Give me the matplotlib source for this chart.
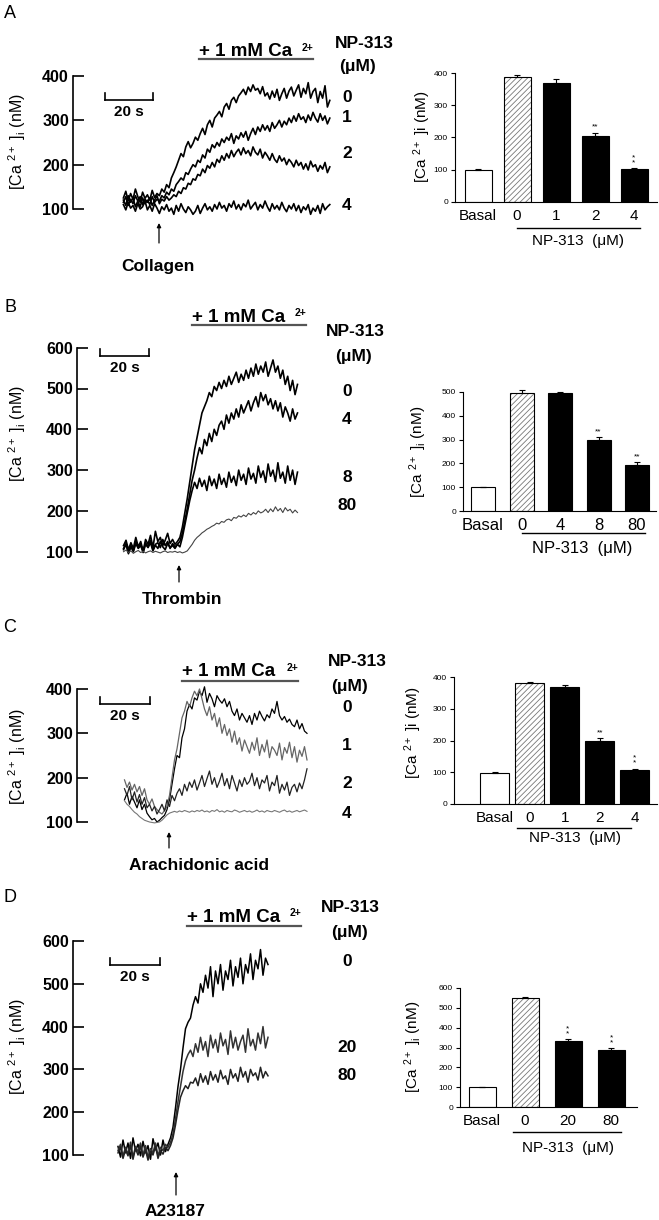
import numpy as np
import matplotlib
matplotlib.use('Agg')
import matplotlib.pyplot as plt
from matplotlib.lines import Line2D
from matplotlib.patches import FancyArrowPatch

plt.rcParams['font.family'] = ['Liberation Sans', 'DejaVu Sans']
plt.rcParams['mathtext.fontset'] = 'custom'
plt.rcParams['mathtext.rm'] = 'Liberation Sans'
plt.rcParams['mathtext.it'] = 'Liberation Sans:italic'
plt.rcParams['mathtext.bf'] = 'Liberation Sans:bold'
plt.rcParams['hatch.linewidth'] = 0.6
plt.rcParams['hatch.color'] = '#777777'

# ---------------- DATA ----------------
# Panel A (collagen) traces, 1 value per second starting at A_t0 (s)
A_t0 = 21
A_0 = [125,140,118,135,122,145,128,115,138,124,
       132,120,142,126,135,130,145,138,155,148,
       170,182,195,210,225,218,240,252,238,248,
       262,255,270,282,268,290,300,285,305,312,
       320,308,330,338,325,345,352,340,355,362,
       370,358,375,365,380,368,372,360,376,355,
       362,348,366,352,370,345,360,372,350,366,
       375,355,368,380,352,372,360,385,350,365,
       372,340,365,350,378,330,345]
A_1 = [115,128,108,122,112,130,118,105,125,112,
       120,110,128,115,122,118,130,125,138,132,
       145,140,155,162,170,165,182,178,190,200,
       195,210,205,222,215,235,228,245,238,250,
       242,258,250,262,255,270,248,265,258,272,
       262,275,255,270,282,268,285,275,290,278,
       288,275,295,282,290,300,285,298,290,305,
       295,310,298,315,302,308,295,312,300,318,
       305,296,315,300,310,292,305]
A_2 = [120,108,130,115,125,105,118,128,110,122,
       115,125,108,120,130,112,122,118,128,120,
       125,132,128,140,135,148,145,158,155,168,
       165,178,175,190,182,198,192,205,195,212,
       205,220,210,225,215,232,218,228,235,222,
       238,225,232,220,240,228,222,235,215,228,
       220,210,225,212,205,220,208,215,200,212,
       205,195,210,198,205,190,202,188,208,195,
       200,185,198,190,205,182,195]
A_4 = [110,98,115,102,108,95,112,100,105,118,
       98,108,95,112,102,90,105,98,110,95,
       102,88,108,95,112,100,92,105,98,88,
       95,108,90,102,112,98,105,95,110,100,
       115,102,108,95,112,104,118,100,110,98,
       112,105,120,100,108,115,98,110,102,118,
       105,95,112,100,108,98,115,102,94,108,
       100,112,96,108,92,105,98,110,88,102,
       95,108,90,112,98,105,110]
A_conc = ['0', '1', '2', '4']
A_stim = 'Collagen'
A_bar_labels = ['Basal', '0', '1', '2', '4']
A_bar_vals = [100, 387, 370, 205, 102]
A_bar_err = [2, 8, 12, 10, 3]

# Panel B (thrombin)
B_t0 = 19
B_0 = [115,128,105,122,108,135,112,125,102,130,
       118,140,110,150,125,135,115,128,145,120,
       130,118,125,135,160,195,230,270,310,350,
       380,410,440,455,470,490,480,505,495,515,
       500,520,505,530,510,525,540,515,535,520,
       545,525,550,530,560,535,555,540,565,530,
       550,570,540,555,525,545,510,530,495,520,
       485,510]
B_4 = [108,120,98,115,102,125,110,118,100,122,
       112,128,105,118,122,110,130,115,125,108,
       120,112,118,125,145,175,205,240,275,300,
       330,355,340,375,360,390,370,400,385,410,
       420,400,435,415,440,425,450,430,460,440,
       455,470,445,465,480,455,490,470,485,460,
       475,450,470,445,465,430,455,440,420,450,
       425,440]
B_8 = [105,118,95,112,100,120,108,115,98,118,
       110,122,102,116,108,125,112,105,120,110,
       115,108,118,112,135,165,195,225,250,270,
       255,280,260,275,250,285,262,278,255,290,
       265,280,258,295,270,285,262,300,275,290,
       265,305,278,292,268,310,282,298,270,315,
       285,300,272,318,280,295,268,310,275,300,
       265,295]
B_80 = [100,104,98,102,96,100,103,98,101,97,
        100,102,98,101,99,97,100,102,98,100,
        99,101,98,100,97,99,102,110,118,128,
        135,140,146,150,155,158,162,165,170,168,
        174,172,178,180,176,184,182,188,185,190,
        186,194,190,196,192,200,195,198,204,196,
        205,198,210,200,206,196,208,200,204,195,
        202,196]
B_conc = ['0', '4', '8', '80']
B_stim = 'Thrombin'
B_bar_labels = ['Basal', '0', '4', '8', '80']
B_bar_vals = [100, 497, 495, 300, 195]
B_bar_err = [2, 10, 7, 10, 10]

# Panel C (arachidonic acid)
C_t0 = 19
C_0 = [150,165,140,158,145,132,150,128,140,120,
       112,105,108,100,104,110,115,128,150,185,
       220,250,245,290,310,350,365,355,380,375,
       395,385,405,370,390,378,360,385,375,368,
       378,360,372,350,340,355,330,345,335,325,
       340,320,345,330,350,338,328,342,335,355,
       345,372,340,330,338,325,332,320,315,330,
       310,322,305,300]
C_1 = [195,178,190,172,185,168,180,160,175,150,
       140,152,135,128,122,118,126,135,160,200,
       240,265,300,335,350,372,360,380,395,385,
       400,378,355,340,360,330,345,315,335,300,
       320,295,310,280,305,275,290,260,285,270,
       255,280,262,290,250,275,258,285,245,270,
       262,250,278,240,268,255,280,245,270,235,
       262,248,270,240]
C_2 = [175,160,180,150,168,145,162,140,155,132,
       140,125,135,118,128,140,125,150,135,160,
       148,165,175,160,185,170,190,178,195,172,
       188,205,180,198,215,185,200,178,192,210,
       182,198,175,205,188,170,195,180,200,185,
       192,210,182,200,175,195,188,205,170,190,
       182,205,165,185,172,190,160,178,185,168,
       188,175,195,220]
C_4 = [148,140,135,128,122,118,112,108,104,102,
       100,99,98,99,100,104,110,116,120,122,
       124,122,125,123,126,124,122,125,123,126,
       124,127,123,125,122,126,124,128,123,125,
       122,126,124,123,127,125,122,124,126,123,
       125,122,124,127,123,125,122,126,124,123,
       126,124,122,125,127,123,125,122,124,126,
       123,125,127,124]
C_conc = ['0', '1', '2', '4']
C_stim = 'Arachidonic acid'
C_bar_labels = ['Basal', '0', '1', '2', '4']
C_bar_vals = [97, 380, 368, 200, 108]
C_bar_err = [3, 3, 8, 8, 3]

# Panel D (A23187)
D_t0 = 18
D_0 = [120,95,135,105,128,92,140,110,125,98,
       132,105,122,90,138,112,128,100,135,108,
       125,140,165,210,260,300,350,395,410,420,
       450,470,455,500,480,520,490,540,470,530,
       500,545,485,530,510,555,495,540,515,560,
       500,545,525,570,510,555,535,580,520,560,
       545]
D_20 = [110,125,98,118,102,130,95,120,108,128,
        100,122,95,115,105,128,98,118,110,125,
        118,130,150,185,225,260,295,320,335,345,
        330,360,340,375,345,365,330,380,350,370,
        340,385,355,370,335,390,350,375,345,365,
        380,340,395,355,370,345,385,360,400,350,
        375]
D_80 = [105,118,92,112,98,122,90,115,100,120,
        95,112,88,108,100,120,92,110,102,118,
        110,122,140,170,205,235,250,262,255,270,
        268,280,262,290,270,285,265,295,275,288,
        270,298,278,285,265,300,280,290,272,305,
        282,295,270,300,285,292,275,305,280,295,
        285]
D_conc = ['0', '20', '80']
D_stim = 'A23187'
D_bar_labels = ['Basal', '0', '20', '80']
D_bar_vals = [100, 550, 335, 285]
D_bar_err = [3, 5, 7, 10]

# ---------------- FIGURE ----------------
W, H = 659, 1220
fig = plt.figure(figsize=(W / 100, H / 100), dpi=100)
fig.patch.set_facecolor('white')


def fx(x):
    return x / W


def fy(y):
    return 1 - y / H


def ftext(x, y, s, size=10, weight='bold', ha='center', va='center', **kw):
    fig.text(fx(x), fy(y), s, fontsize=size, fontweight=weight, ha=ha, va=va, **kw)


def fline(x0, y0, x1, y1, **kw):
    fig.add_artist(Line2D([fx(x0), fx(x1)], [fy(y0), fy(y1)],
                          transform=fig.transFigure, **kw))


def farrow(x, y0, y1):
    fig.add_artist(FancyArrowPatch((fx(x), fy(y0)), (fx(x), fy(y1)),
                                   transform=fig.transFigure, arrowstyle='-|>',
                                   mutation_scale=6, lw=0.9, color='black',
                                   shrinkA=0, shrinkB=0))


CA_TRACE = r'[Ca $^{2+}$ ]$_{\mathrm{i}}$ (nM)'


def trace_panel(letter, letter_y, spine_x, ytop_px, ybot_px, ymin, ymax, step,
                pxs, t0, traces, styles, conc, conc_ys, bar_px, ca_px, np_px,
                mu_px, stim, stim_px, arrow_px, ylab_y):
    right = 345
    ax = fig.add_axes([fx(spine_x), fy(ybot_px), (right - spine_x) / W,
                       (ybot_px - ytop_px) / H])
    ax.set_xlim(0, (right - spine_x) / pxs)
    ax.set_ylim(ymin, ymax)
    ax.patch.set_visible(False)
    for s in ['top', 'right', 'bottom']:
        ax.spines[s].set_visible(False)
    ax.spines['left'].set_linewidth(1.2)
    ax.set_xticks([])
    ax.set_yticks(np.arange(ymin, ymax + 1, step))
    ax.tick_params(axis='y', direction='in', length=8, width=1.2, pad=3,
                   labelsize=11.5)
    for lbl in ax.get_yticklabels():
        lbl.set_fontweight('bold')
    for vals, (c, lw) in zip(traces, styles):
        t = t0 + np.arange(len(vals))
        ax.plot(t, vals, color=c, lw=lw, clip_on=False)
    # scale bar 20 s
    xs0, ys = bar_px
    xs1 = xs0 + 20 * pxs
    fline(xs0, ys, xs1, ys, color='black', lw=1.2)
    fline(xs0, ys, xs0, ys - 7, color='black', lw=1.2)
    fline(xs1, ys, xs1, ys - 7, color='black', lw=1.2)
    ftext((xs0 + xs1) / 2, ys + 12, '20 s', size=11)
    # Ca2+ bar
    cx, cy, ux0, ux1, uy = ca_px
    ftext(ux0, cy, '+ 1 mM Ca', size=13.5, ha='left')
    ftext(ux1, cy - 4, '2+', size=7.5, ha='right')
    fline(ux0, uy, ux1, uy, color='#555555', lw=1.6)
    ftext(np_px[0], np_px[1], 'NP-313', size=12.5)
    ftext(mu_px[0], mu_px[1], '(μM)', size=12.5)
    for s, yy in zip(conc, conc_ys):
        ftext(347, yy, s, size=12.5)
    ax_x, ay0, ay1 = arrow_px
    farrow(ax_x, ay0, ay1)
    ftext(stim_px[0], stim_px[1], stim, size=12.5)
    ftext(17, ylab_y, CA_TRACE, size=11.5, weight='normal', rotation=90)
    ftext(10, letter_y, letter, size=13, weight='normal')
    return ax


def bar_panel(spine_x, y0_px, ytop_px, ytop_val, step, right_px, c0, sp, wpx,
              labels, vals, errs, stars, ylab, ylab_px, ul_px, np_px, lsize=11):
    n = len(vals)
    ax = fig.add_axes([fx(spine_x), fy(y0_px), (right_px - spine_x) / W,
                       (y0_px - ytop_px) / H])
    xl = -(c0 - spine_x) / sp
    xr = (n - 1) + (right_px - (c0 + (n - 1) * sp)) / sp
    ax.set_xlim(xl, xr)
    ax.set_ylim(0, ytop_val)
    ax.patch.set_visible(False)
    for s in ['top', 'right']:
        ax.spines[s].set_visible(False)
    ax.spines['left'].set_linewidth(0.8)
    ax.spines['bottom'].set_linewidth(0.8)
    w = wpx / sp
    x = np.arange(n)
    # basal
    ax.bar(x[0], vals[0], width=w, color='white', edgecolor='black', lw=0.8)
    # control, hatched
    ax.bar(x[1], vals[1], width=w, color='white', edgecolor='#777777',
           hatch='//////', lw=0)
    ax.bar(x[1], vals[1], width=w, fill=False, edgecolor='black', lw=0.8)
    ax.bar(x[2:], vals[2:], width=w, color='black', edgecolor='black', lw=0.8)
    ax.errorbar(x, vals, yerr=[np.zeros(n), errs], fmt='none', ecolor='black',
                elinewidth=0.8, capsize=2, capthick=0.8, clip_on=False)
    for i, s in stars.items():
        ax.text(x[i], vals[i] + errs[i] + ytop_val * 0.015, s, ha='center',
                va='bottom', fontsize=6, linespacing=0.6)
    ax.set_yticks(np.arange(0, ytop_val + 1, step))
    ax.tick_params(axis='y', direction='out', length=3, width=0.8, pad=2,
                   labelsize=6)
    ax.set_xticks(x)
    ax.set_xticklabels(labels)
    ax.tick_params(axis='x', length=0, pad=5, labelsize=lsize)
    ftext(ylab_px[0], ylab_px[1], ylab, size=11, weight='normal', rotation=90)
    fline(ul_px[0], ul_px[2], ul_px[1], ul_px[2], color='black', lw=1.0)
    ftext(np_px[0], np_px[1], 'NP-313  (μM)', size=lsize, weight='normal')
    return ax


# ---- Panel A ----
trace_panel('A', 13, 73, 76, 209, 100, 400, 100, 2.4, A_t0,
            [A_0, A_1, A_2, A_4],
            [('black', 1.2), ('black', 1.2), ('black', 1.2), ('black', 1.2)],
            A_conc, [97, 117, 154, 205], (105, 100), (256, 52, 199, 313, 59),
            (364, 43), (358, 67), A_stim, (158, 267), (159, 243, 223), 142)
bar_panel(455, 202, 73, 400, 100, 657, 478, 39, 27, A_bar_labels, A_bar_vals,
          A_bar_err, {3: '**', 4: '*\n*'}, r'[Ca $^{2+}$ ]i (nM)', (422, 137),
          (517, 640, 228), (578, 241))

# ---- Panel B ----
trace_panel('B', 307, 77, 347.7, 551.7, 100, 600, 100, 2.45, B_t0,
            [B_0, B_4, B_8, B_80],
            [('black', 1.2), ('black', 1.2), ('black', 1.2), ('#444444', 0.8)],
            B_conc, [391, 420, 477, 505], (100, 356), (249, 317, 192, 306, 325),
            (355, 331), (353, 357), B_stim, (182, 600), (179, 582, 565), 434)
bar_panel(463, 511, 392, 500, 100, 656, 483, 38.5, 24, B_bar_labels, B_bar_vals,
          B_bar_err, {3: '**', 4: '**'}, r'[Ca $^{2+}$ ]$_{\mathrm{i}}$ (nM)',
          (418, 452), (522, 645, 533), (582, 548), lsize=12)

# ---- Panel C ----
trace_panel('C', 628, 77, 689, 822, 100, 400, 100, 2.5, C_t0,
            [C_0, C_1, C_2, C_4],
            [('black', 0.9), ('#666666', 0.9), ('#222222', 0.9), ('#777777', 0.8)],
            C_conc, [707, 746, 783, 814], (100, 704), (239, 672, 182, 298, 681),
            (357, 662), (350, 687), C_stim, (199, 865), (169, 848, 832), 757)
bar_panel(454, 804, 677, 400, 100, 657, 494.7, 35, 29, C_bar_labels, C_bar_vals,
          C_bar_err, {3: '**', 4: '*\n*'}, r'[Ca $^{2+}$ ]i (nM)', (413, 733),
          (517, 631, 828), (575, 838))

# ---- Panel D ----
trace_panel('D', 898, 73, 941, 1155, 100, 600, 100, 2.5, D_t0,
            [D_0, D_20, D_80],
            [('black', 1.1), ('#333333', 1.1), ('#222222', 1.1)],
            D_conc, [962, 1047, 1075], (110, 965), (244, 917, 187, 301, 926),
            (350, 908), (350, 932), D_stim, (175, 1212), (176, 1195, 1172), 1047)
bar_panel(460, 1107, 988, 600, 100, 637, 482, 43, 27, D_bar_labels, D_bar_vals,
          D_bar_err, {2: '*\n*', 3: '*\n*'}, r'[Ca $^{2+}$ ]$_{\mathrm{i}}$ (nM)',
          (413, 1047), (513, 621, 1132), (568, 1148))

fig.savefig('out.png', dpi=100)
